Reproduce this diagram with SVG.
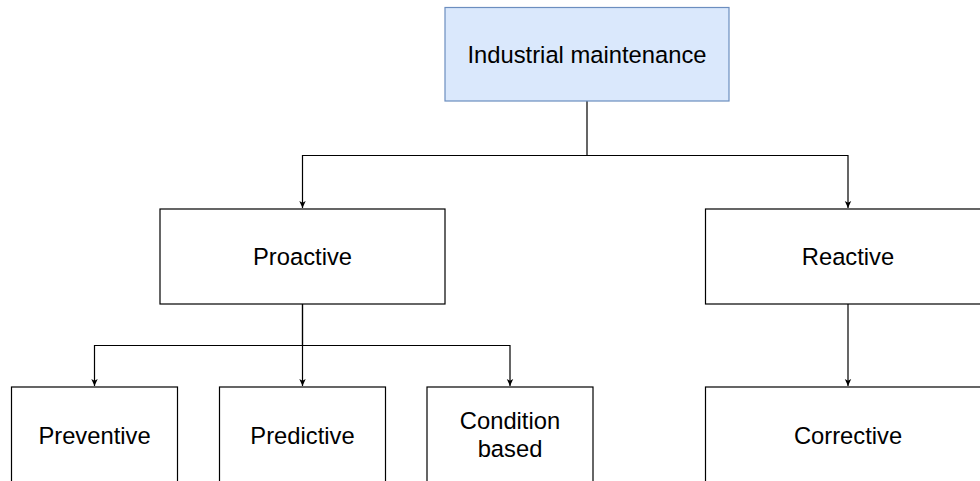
<svg xmlns="http://www.w3.org/2000/svg" width="980" height="481" viewBox="0 0 980 481">
<defs>
<marker id="arr" markerWidth="8" markerHeight="8" refX="7" refY="4" orient="auto" markerUnits="userSpaceOnUse">
<path d="M0,0.8 L7,4 L0,7.2 L1.8,4 Z" fill="#000"/>
</marker>
<style>
.box{fill:#fff;stroke:#000;stroke-width:1.2}
.top{fill:#dae8fc;stroke:#6c8ebf;stroke-width:1.2}
.lbl{font-family:"Liberation Sans",Arial,sans-serif;font-size:23.75px;fill:#000;text-anchor:middle}
.edge{fill:none;stroke:#000;stroke-width:1.2}
</style>
</defs>
<rect width="980" height="481" fill="#fff"/>
<g id="connectors">
<path class="edge" d="M587,101 V155.5 H302.5 V208" marker-end="url(#arr)"/>
<path class="edge" d="M587,155.5 H848 V208" marker-end="url(#arr)"/>
<path class="edge" d="M302.5,304 V345.5 H94.5 V386" marker-end="url(#arr)"/>
<path class="edge" d="M302.5,304 V386" marker-end="url(#arr)"/>
<path class="edge" d="M302.5,345.5 H510 V386" marker-end="url(#arr)"/>
<path class="edge" d="M848,304 V386" marker-end="url(#arr)"/>
</g>
<g id="industrial-maintenance">
<rect class="top" x="445" y="7.5" width="284" height="93.5"/>
<text class="lbl" x="587" y="63">Industrial maintenance</text>
</g>
<g id="proactive">
<rect class="box" x="160" y="209" width="285" height="95"/>
<text class="lbl" x="302.5" y="265">Proactive</text>
</g>
<g id="reactive">
<rect class="box" x="705.5" y="209" width="285" height="95"/>
<text class="lbl" x="848" y="265">Reactive</text>
</g>
<g id="preventive">
<rect class="box" x="11.5" y="387" width="166" height="95"/>
<text class="lbl" x="94.5" y="443.5">Preventive</text>
</g>
<g id="predictive">
<rect class="box" x="219.5" y="387" width="166" height="95"/>
<text class="lbl" x="302.5" y="443.5">Predictive</text>
</g>
<g id="condition-based">
<rect class="box" x="427" y="387" width="166" height="95"/>
<text class="lbl" x="510" y="429">Condition</text>
<text class="lbl" x="510" y="457">based</text>
</g>
<g id="corrective">
<rect class="box" x="705.5" y="387" width="285" height="95"/>
<text class="lbl" x="848" y="443.5">Corrective</text>
</g>
</svg>
